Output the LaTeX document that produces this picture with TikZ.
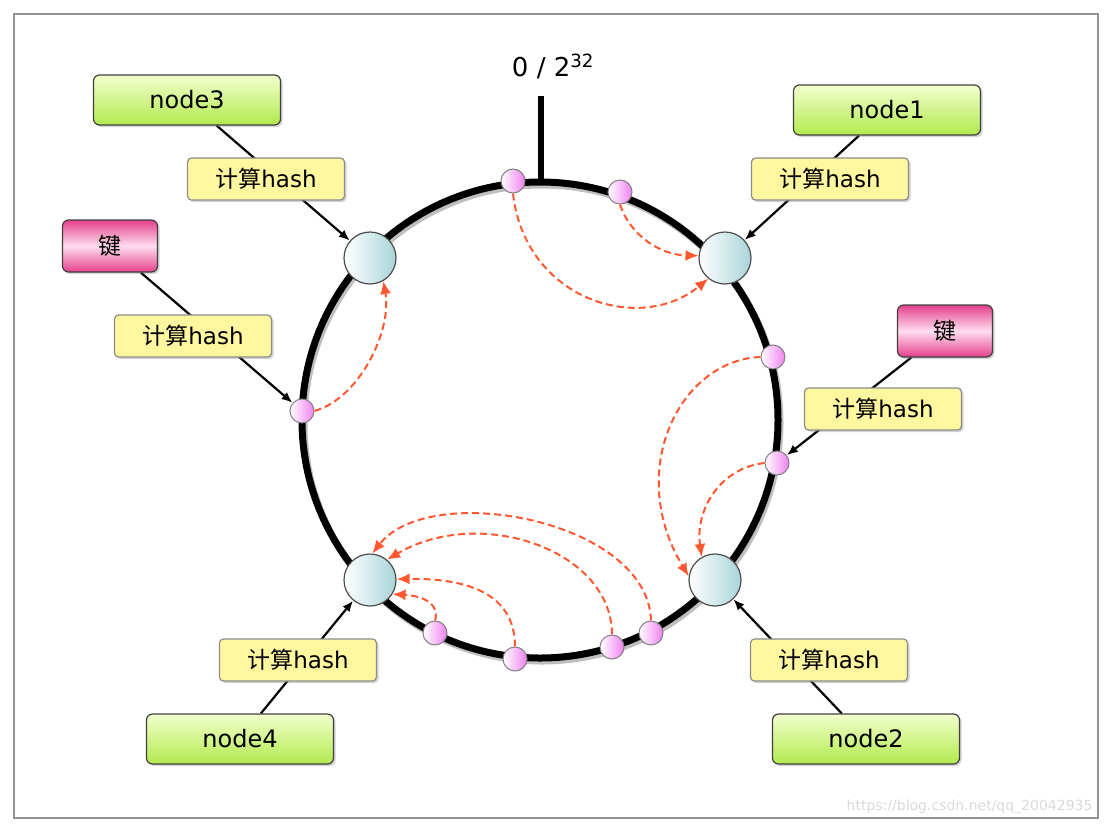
\documentclass[tikz,border=0pt]{standalone}
\usepackage{fontspec}
\setmainfont{DejaVu Sans}
\newfontfamily\cjk{Noto Sans CJK SC}
\usetikzlibrary{arrows.meta,shadows}
\pgfdeclarelayer{back}
\pgfsetlayers{back,main}
\definecolor{srvtop}{RGB}{242,255,205}
\definecolor{srvbot}{RGB}{178,234,78}
\definecolor{keyedge}{RGB}{228,64,140}
\definecolor{keymid}{RGB}{255,222,238}
\definecolor{hashfill}{RGB}{255,246,160}
\definecolor{ringnode}{RGB}{168,212,216}
\definecolor{ptfill}{RGB}{240,128,240}
\definecolor{moveclr}{RGB}{255,88,48}
\begin{document}
\begin{tikzpicture}[x=1pt,y=-1pt]
  \tikzstyle{box}=[draw=black!75,line width=1.2pt,rounded corners=6pt,drop shadow={shadow xshift=2pt,shadow yshift=-2pt,opacity=0.35}]
  \tikzstyle{server}=[box,top color=srvtop,bottom color=srvbot,minimum width=187pt,minimum height=50pt,font=\fontsize{24}{28}\selectfont]
  \tikzstyle{keybox}=[box,top color=keyedge,bottom color=keyedge,middle color=keymid,minimum width=95pt,minimum height=52pt,font=\cjk\fontsize{23}{28}\selectfont]
  \tikzstyle{hashbox}=[box,draw=black!45,rounded corners=4pt,fill=hashfill,minimum width=157pt,minimum height=42pt,font=\fontsize{23}{28}\selectfont]
  \tikzstyle{vnode}=[circle,draw=black!70,line width=1.2pt,left color=white,right color=ringnode,minimum size=52pt,inner sep=0pt]
  \tikzstyle{point}=[circle,draw=black!50,line width=1pt,left color=white,right color=ptfill,minimum size=24pt,inner sep=0pt]
  \tikzstyle{line}=[draw,line width=2.2pt,-{Latex[length=11pt,width=9pt]}]
  \tikzstyle{move}=[draw=moveclr,line width=2pt,dash pattern=on 7pt off 4pt,-{Latex[length=13pt,width=11pt]}]
  \useasboundingbox (0,0) rectangle (1108,828);
  \draw[gray!85,line width=2pt] (14,14) rectangle (1098,818);
  % ring
  \draw[black!25,line width=7pt] (542,423) circle [radius=238];
  \draw[line width=7pt] (540,420) circle [radius=238];
  \draw[line width=6pt] (541,96) -- (541,184);
  \node (zero) at (553,66) {\fontsize{26}{30}\selectfont 0 / 2\textsuperscript{32}};
  % nodes on the ring
  \node[vnode] (n3) at (370,258) {};
  \node[vnode] (n1) at (725,258) {};
  \node[vnode] (n2) at (715,580) {};
  \node[vnode] (n4) at (370,580) {};
  % keys on the ring
  \node[point] (p1) at (513,181) {};
  \node[point] (p2) at (620,192) {};
  \node[point] (p3) at (773,357) {};
  \node[point] (p4) at (777,463) {};
  \node[point] (p5) at (302,411) {};
  \node[point] (p6) at (435,633) {};
  \node[point] (p7) at (515,659) {};
  \node[point] (p8) at (612,647) {};
  \node[point] (p9) at (651,633) {};
  % servers and keys
  \node[server] (s3) at (187,100) {node3};
  \node[server] (s1) at (887,110) {node1};
  \node[server] (s4) at (240,739) {node4};
  \node[server] (s2) at (866,739) {node2};
  \node[keybox] (k1) at (110,246) {键};
  \node[keybox] (k2) at (945,331) {键};
  \node[hashbox] (h3) at (266,179) {{\cjk 计算}hash};
  \node[hashbox] (h1) at (830,179) {{\cjk 计算}hash};
  \node[hashbox] (hk1) at (193,336) {{\cjk 计算}hash};
  \node[hashbox] (hk2) at (883,409) {{\cjk 计算}hash};
  \node[hashbox] (h4) at (298,660) {{\cjk 计算}hash};
  \node[hashbox] (h2) at (829,660) {{\cjk 计算}hash};
  \begin{pgfonlayer}{back}
    \path[line] (s3) -- (n3);
    \path[line] (s1) -- (n1);
    \path[line] (k1) -- (p5);
    \path[line] (k2) -- (p4);
    \path[line] (s4) -- (n4);
    \path[line] (s2) -- (n2);
  \end{pgfonlayer}
  % clockwise to the next node
  \draw[move] (p1.south) .. controls (525,300) and (640,335) .. (n1.231);
  \draw[move] (p2.south) .. controls (630,235) and (660,255) .. (n1.175);
  \draw[move] (p3.west) .. controls (680,360) and (625,470) .. (n2.172);
  \draw[move] (p4.west) .. controls (720,468) and (695,510) .. (n2.120);
  \draw[move] (p5.east) .. controls (360,398) and (392,330) .. (n3.-60);
  \draw[move] (p6.north) .. controls (440,605) and (425,596) .. (n4.-32);
  \draw[move] (p7.north) .. controls (515,595) and (470,578) .. (n4.2);
  \draw[move] (p8.north) .. controls (612,550) and (480,505) .. (n4.50);
  \draw[move] (p9.north) .. controls (648,520) and (430,480) .. (n4.85);
  \node[anchor=east,text=gray!30] (mark) at (1096,807) {\fontsize{14}{16}\selectfont https://blog.csdn.net/qq\_20042935};
\end{tikzpicture}
\end{document}
